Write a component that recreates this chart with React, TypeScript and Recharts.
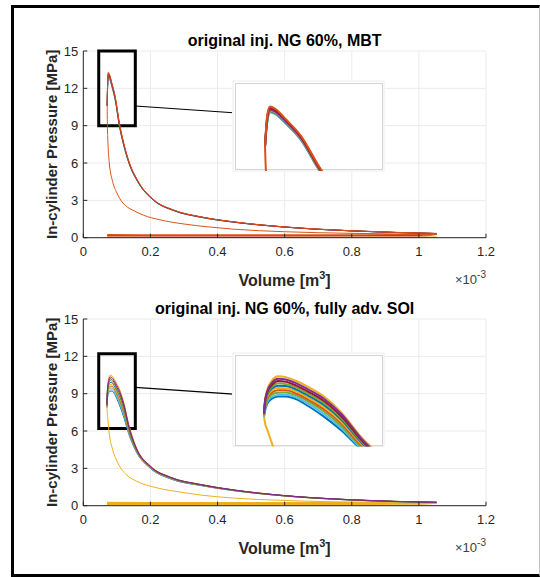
import React from 'react';
import { LineChart, Line, XAxis, YAxis, CartesianGrid, ReferenceArea, ReferenceLine } from 'recharts';

const FONT = '"Liberation Sans", Arial, Helvetica, sans-serif';
const AXIS = '#262626';

const xTicks = [0, 0.2, 0.4, 0.6, 0.8, 1, 1.2];
const yTicks = [0, 3, 6, 9, 12, 15];

// MATLAB default line colours
const C = {
  blue: '#0072BD',
  orange: '#D95319',
  yellow: '#EDB120',
  purple: '#7E2F8E',
  green: '#77AC30',
  cyan: '#4DBEEE',
  red: '#A2142F',
};

// ---------- top panel: original inj. NG 60%, MBT (volume in 1e-3 m3, pressure in MPa) ----------
const mbtExpVolume = [0.0712, 0.072, 0.073, 0.0745, 0.078, 0.085, 0.095, 0.108, 0.12, 0.137, 0.162, 0.21, 0.27, 0.35, 0.45, 0.6, 0.8, 1.053];
const mbtCyclePressure = [
  [10.6, 11.6, 12.45, 12.9, 12.8, 12.15, 11.05, 8.9, 7.45, 5.9, 4.5, 2.99, 2.17, 1.64, 1.24, 0.85, 0.54, 0.33],
  [10.6, 11.65, 12.55, 12.95, 12.82, 12.18, 11.08, 8.92, 7.48, 5.92, 4.51, 2.99, 2.17, 1.64, 1.24, 0.85, 0.54, 0.33],
  [10.6, 11.7, 12.6, 13.0, 12.86, 12.22, 11.12, 8.95, 7.5, 5.93, 4.52, 3.0, 2.18, 1.65, 1.25, 0.85, 0.55, 0.33],
  [10.6, 11.75, 12.65, 13.05, 12.9, 12.26, 11.16, 8.98, 7.52, 5.95, 4.53, 3.01, 2.18, 1.65, 1.25, 0.85, 0.55, 0.33],
  [10.6, 11.8, 12.7, 13.1, 12.95, 12.3, 11.2, 9.02, 7.56, 5.98, 4.55, 3.02, 2.19, 1.66, 1.25, 0.86, 0.55, 0.33],
  [10.6, 11.9, 12.8, 13.2, 13.05, 12.38, 11.28, 9.08, 7.6, 6.01, 4.57, 3.03, 2.2, 1.67, 1.26, 0.86, 0.55, 0.34],
  [10.6, 12.0, 12.9, 13.3, 13.15, 12.45, 11.35, 9.15, 7.65, 6.05, 4.6, 3.05, 2.22, 1.68, 1.27, 0.87, 0.56, 0.34],
];
const mbtCycleColors = [C.green, C.cyan, C.blue, C.yellow, C.purple, C.red, C.orange];

const mbtCompVolume = [0.0712, 0.0718, 0.073, 0.0745, 0.0775, 0.0875, 0.1, 0.112, 0.125, 0.152, 0.18, 0.226, 0.3, 0.375, 0.45, 0.6, 0.8, 1.053];
const mbtCompPressure = [10.6, 9.0, 7.9, 7.0, 6.0, 4.5, 3.6, 3.0, 2.6, 2.15, 1.8, 1.45, 1.1, 0.86, 0.68, 0.48, 0.35, 0.27];

const mbtGasVolume = [0.0712, 0.2, 0.4, 0.6, 0.8, 1.0, 1.053];
const mbtExhaustA = [0.24, 0.22, 0.21, 0.21, 0.22, 0.25, 0.3];
const mbtExhaustB = [0.17, 0.16, 0.16, 0.16, 0.17, 0.19, 0.27];
const mbtIntake = [0.08, 0.07, 0.07, 0.07, 0.08, 0.1, 0.25];
const mbtBase = [0.03, 0.03, 0.03, 0.03, 0.03, 0.03, 0.03];

// ---------- bottom panel: original inj. NG 60%, fully adv. SOI ----------
const soiExpVolume = [0.0705, 0.071, 0.0725, 0.0755, 0.08, 0.085, 0.092, 0.1, 0.11, 0.122, 0.135, 0.157, 0.2, 0.26, 0.35, 0.45, 0.6, 0.8, 1.053];
const soiCyclePressure = [
  [8.2, 8.8, 9.6, 10.2, 10.5, 10.45, 10.2, 9.8, 9.22, 8.15, 6.6, 4.75, 3.2, 2.3, 1.71, 1.27, 0.82, 0.48, 0.27],
  [7.9, 8.2, 8.7, 9.05, 9.2, 9.2, 9.02, 8.58, 7.93, 7.0, 5.8, 4.38, 3.0, 2.15, 1.62, 1.2, 0.78, 0.45, 0.26],
  [7.9, 8.25, 8.82, 9.18, 9.3, 9.32, 9.15, 8.73, 8.1, 7.15, 5.85, 4.4, 3.02, 2.17, 1.63, 1.21, 0.78, 0.45, 0.26],
  [7.95, 8.35, 8.95, 9.32, 9.45, 9.46, 9.28, 8.87, 8.26, 7.3, 5.95, 4.44, 3.04, 2.19, 1.64, 1.22, 0.79, 0.46, 0.26],
  [8.0, 8.4, 9.05, 9.45, 9.6, 9.6, 9.4, 9.0, 8.4, 7.45, 6.05, 4.48, 3.06, 2.21, 1.65, 1.22, 0.79, 0.46, 0.26],
  [8.0, 8.5, 9.15, 9.58, 9.75, 9.74, 9.52, 9.12, 8.54, 7.57, 6.15, 4.52, 3.08, 2.22, 1.66, 1.23, 0.79, 0.46, 0.26],
  [8.05, 8.55, 9.25, 9.7, 9.9, 9.88, 9.65, 9.25, 8.68, 7.7, 6.25, 4.56, 3.1, 2.24, 1.67, 1.24, 0.8, 0.47, 0.26],
  [8.1, 8.6, 9.3, 9.8, 10.05, 10.0, 9.78, 9.37, 8.8, 7.8, 6.33, 4.6, 3.13, 2.25, 1.68, 1.24, 0.8, 0.47, 0.27],
  [8.1, 8.7, 9.4, 9.9, 10.2, 10.15, 9.9, 9.5, 8.93, 7.9, 6.4, 4.65, 3.15, 2.27, 1.69, 1.25, 0.81, 0.47, 0.27],
  [8.15, 8.75, 9.5, 10.05, 10.35, 10.3, 10.05, 9.65, 9.08, 8.05, 6.5, 4.7, 3.17, 2.28, 1.7, 1.26, 0.81, 0.48, 0.27],
];
const soiCycleColors = [C.yellow, C.blue, C.cyan, C.green, C.orange, C.yellow, C.blue, C.green, C.red, C.purple];

const soiCompVolume = [0.0705, 0.071, 0.073, 0.0765, 0.0875, 0.1, 0.112, 0.13, 0.16, 0.217, 0.3, 0.348, 0.455, 0.6, 0.8, 1.053];
const soiCompPressure = [8.0, 7.6, 7.0, 6.0, 4.5, 3.6, 3.0, 2.45, 1.95, 1.45, 1.05, 0.86, 0.6, 0.42, 0.28, 0.22];

const soiGasVolume = [0.0705, 0.2, 0.4, 0.6, 0.8, 1.0, 1.053];
const soiExhaustA = [0.25, 0.24, 0.24, 0.24, 0.25, 0.26, 0.27];
const soiExhaustB = [0.19, 0.18, 0.18, 0.18, 0.19, 0.21, 0.25];
const soiIntake = [0.12, 0.11, 0.11, 0.11, 0.12, 0.14, 0.22];

// zoom boxes, connector lines and insets
const mbtZoom = { x1: 0.046, x2: 0.155, y1: 9, y2: 15 };
const mbtLink = [{ x: 0.155, y: 10.58 }, { x: 0.447, y: 10.04 }];
const soiZoom = { x1: 0.046, x2: 0.155, y1: 6.2, y2: 12.2 };
const soiLink = [{ x: 0.155, y: 9.51 }, { x: 0.447, y: 8.97 }];

type Pt = { v: number; p: number };
type Trace = { key: string; data: Pt[]; color: string; width: number };

const zip = (vol: number[], pres: number[]): Pt[] => vol.map((v, i) => ({ v, p: pres[i] }));

const mbtTraces: Trace[] = [
  { key: 'base', data: zip(mbtGasVolume, mbtBase), color: C.yellow, width: 1.5 },
  { key: 'intake', data: zip(mbtGasVolume, mbtIntake), color: '#E89070', width: 1 },
  { key: 'exhB', data: zip(mbtGasVolume, mbtExhaustB), color: C.red, width: 1 },
  { key: 'exhA', data: zip(mbtGasVolume, mbtExhaustA), color: C.orange, width: 1.5 },
  { key: 'comp', data: zip(mbtCompVolume, mbtCompPressure), color: C.orange, width: 1 },
  ...mbtCyclePressure.map((p, i) => ({ key: `cyc${i}`, data: zip(mbtExpVolume, p), color: mbtCycleColors[i], width: 1 })),
];

const soiTraces: Trace[] = [
  { key: 'intake', data: zip(soiGasVolume, soiIntake), color: C.yellow, width: 1.5 },
  { key: 'exhB', data: zip(soiGasVolume, soiExhaustB), color: '#E59A45', width: 1 },
  { key: 'exhA', data: zip(soiGasVolume, soiExhaustA), color: C.yellow, width: 1.5 },
  { key: 'comp', data: zip(soiCompVolume, soiCompPressure), color: C.yellow, width: 1 },
  ...soiCyclePressure.map((p, i) => ({ key: `cyc${i}`, data: zip(soiExpVolume, p), color: soiCycleColors[i], width: 1 })),
];

const VolumeLabel = ({ viewBox }: any) => {
  const { x, y, width } = viewBox;
  return (
    <g>
      <text x={x + width / 2} y={y + 48} textAnchor="middle" fontSize={16} fontWeight="bold" fill={AXIS} fontFamily={FONT}>
        Volume [m<tspan dy={-7} fontSize={11}>3</tspan>
        <tspan dy={7}>]</tspan>
      </text>
      <text x={x + width} y={y + 46} textAnchor="end" fontSize={13} fill="#404040" fontFamily={FONT}>
        ×10<tspan dy={-6} fontSize={10}>-3</tspan>
      </text>
    </g>
  );
};

const renderLines = (traces: Trace[], scale: number) =>
  traces.map((t) => (
    <Line
      key={t.key}
      data={t.data}
      dataKey="p"
      type="monotone"
      stroke={t.color}
      strokeWidth={t.width * scale}
      dot={false}
      activeDot={false}
      isAnimationActive={false}
    />
  ));

function MainChart({ top, title, traces, zoom, link }: { top: number; title: string; traces: Trace[]; zoom: any; link: any }) {
  const tickStyle = { fill: AXIS, fontSize: 13, fontFamily: FONT };
  return (
    <div style={{ position: 'absolute', left: 0, top, width: 540, height: 300 }}>
      <div
        style={{
          position: 'absolute',
          left: 83.3,
          top: 31,
          width: 402.7,
          lineHeight: '20px',
          textAlign: 'center',
          fontFamily: FONT,
          fontSize: 16,
          fontWeight: 'bold',
          color: '#000',
          whiteSpace: 'nowrap',
        }}
      >
        {title}
      </div>
      <LineChart width={540} height={300} margin={{ top: 51, right: 54, bottom: 32.3, left: 19.3 }}>
        <CartesianGrid stroke="#ebebeb" />
        <XAxis
          dataKey="v"
          type="number"
          domain={[0, 1.2]}
          ticks={xTicks}
          interval={0}
          height={30}
          tickSize={-4}
          tickMargin={13}
          stroke={AXIS}
          tick={tickStyle}
          label={<VolumeLabel />}
        />
        <XAxis
          xAxisId="top"
          orientation="top"
          type="number"
          domain={[0, 1.2]}
          ticks={xTicks}
          interval={0}
          height={0}
          tickSize={-4}
          tick={false}
          stroke={AXIS}
        />
        <YAxis
          type="number"
          domain={[0, 15]}
          ticks={yTicks}
          interval={0}
          width={64}
          tickSize={-4}
          tickMargin={9}
          stroke={AXIS}
          tick={tickStyle}
          label={{
            value: 'In-cylinder Pressure [MPa]',
            angle: -90,
            position: 'center',
            fontSize: 15,
            fontWeight: 'bold',
            fill: AXIS,
            fontFamily: FONT,
          }}
        />
        <YAxis
          yAxisId="right"
          orientation="right"
          type="number"
          domain={[0, 15]}
          ticks={yTicks}
          interval={0}
          width={0}
          tickSize={-4}
          tick={false}
          stroke={AXIS}
        />
        {renderLines(traces, 1)}
        <ReferenceArea {...zoom} fill="none" fillOpacity={0} stroke="#000" strokeWidth={3} ifOverflow="visible" />
        <ReferenceLine segment={link} stroke="#000" strokeWidth={1.2} ifOverflow="visible" />
      </LineChart>
    </div>
  );
}

function Inset({ left, top, width, height, xDomain, yDomain, xGrid, yGrid, traces }: any) {
  return (
    <div style={{ position: 'absolute', left: left - 1, top: top - 1, width: width + 2, height: height + 2, background: '#fff' }}>
      <div
        style={{
          position: 'absolute',
          left: 3,
          top: 3,
          width: width - 5,
          height: height - 5,
          border: '1px solid #d4d4d4',
        }}
      />
      <LineChart width={width + 2} height={height + 2} margin={{ top: 1, right: 1, bottom: 1, left: 1 }}>
        <CartesianGrid stroke="#ececec" />
        <XAxis dataKey="v" type="number" domain={xDomain} ticks={[xGrid]} allowDataOverflow height={0} tickSize={-3} tick={false} stroke="#7a7a7a" />
        <XAxis xAxisId="top" orientation="top" type="number" domain={xDomain} ticks={[xGrid]} allowDataOverflow height={0} tickSize={-3} tick={false} stroke="#7a7a7a" />
        <YAxis type="number" domain={yDomain} ticks={[yGrid]} allowDataOverflow width={0} tickSize={-3} tick={false} stroke="#7a7a7a" />
        <YAxis yAxisId="right" orientation="right" type="number" domain={yDomain} ticks={[yGrid]} allowDataOverflow width={0} tickSize={-3} tick={false} stroke="#7a7a7a" />
        {renderLines(traces, 2)}
      </LineChart>
    </div>
  );
}

export default function App() {
  return (
    <div style={{ position: 'absolute', left: 0, top: 0, width: 540, height: 577, background: '#fff', overflow: 'hidden' }}>
      <div
        style={{
          position: 'absolute',
          left: 11,
          top: 5,
          width: 529,
          height: 572,
          boxSizing: 'border-box',
          borderTop: '3px solid #000',
          borderLeft: '3px solid #000',
          borderBottom: '3px solid #000',
          borderRight: '1px solid #c0c0c0',
        }}
      />
      <MainChart top={0} title="original inj. NG 60%, MBT" traces={mbtTraces} zoom={mbtZoom} link={mbtLink} />
      <MainChart top={268} title="original inj. NG 60%, fully adv. SOI" traces={soiTraces} zoom={soiZoom} link={soiLink} />
      <Inset left={233.3} top={80.7} width={151} height={90} xDomain={[0.05, 0.15]} yDomain={[9, 15]} xGrid={0.1} yGrid={12} traces={mbtTraces} />
      <Inset left={233.3} top={353.3} width={151} height={93.4} xDomain={[0.05, 0.15]} yDomain={[6, 12]} xGrid={0.1} yGrid={9} traces={soiTraces} />
    </div>
  );
}
